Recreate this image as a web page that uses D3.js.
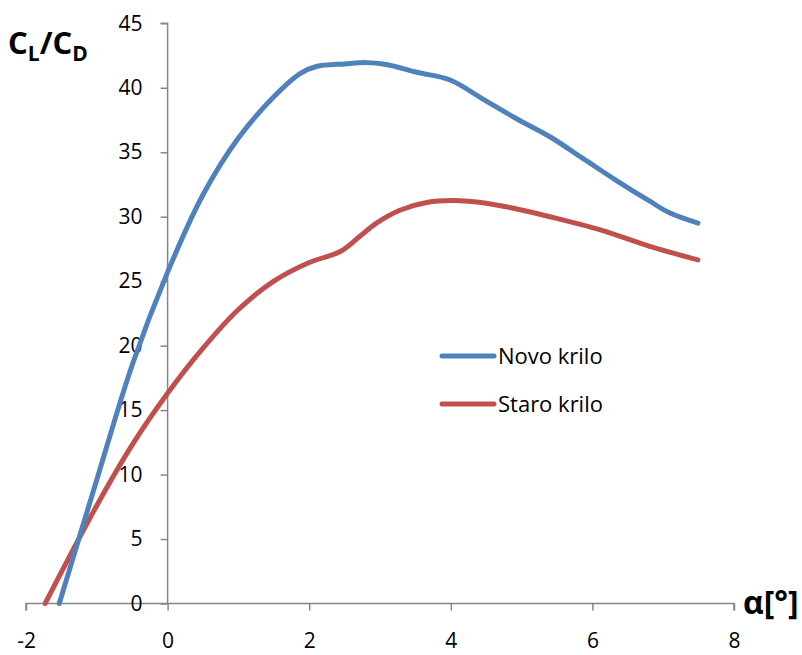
<!DOCTYPE html>
<html>
<head>
<meta charset="utf-8">
<script src="https://cdn.jsdelivr.net/npm/d3@7"></script>
<style>
  html, body { margin: 0; padding: 0; background: #fff; }
  svg { display: block; }
</style>
</head>
<body>
<svg id="chart" width="802" height="655"></svg>
<script>
// ---- data ----
const novoAlpha = [-1.53, -1, -0.5, 0, 0.5, 1, 1.5, 1.87, 2.1, 2.5, 2.81, 3.09, 3.52, 3.99, 4.46, 4.93, 5.40, 5.87, 6.34, 6.81, 7.09, 7.49];
const novoCLCD  = [0, 9.6, 18.5, 25.7, 31.7, 36.1, 39.3, 41.1, 41.65, 41.85, 41.95, 41.8, 41.2, 40.6, 39.1, 37.6, 36.2, 34.5, 32.8, 31.2, 30.3, 29.5];
const staroAlpha = [-1.73, -1, -0.5, 0, 0.5, 1, 1.5, 2, 2.44, 2.72, 2.95, 3.28, 3.66, 4.03, 4.5, 4.93, 5.4, 6.1, 6.81, 7.49];
const staroCLCD  = [0, 7.6, 12.3, 16.3, 19.8, 22.8, 25.0, 26.45, 27.3, 28.5, 29.5, 30.5, 31.1, 31.25, 31.05, 30.6, 30.0, 29.0, 27.7, 26.65];
const seriesNames = ["Novo krilo", "Staro krilo"];
const xTicks = [-2, 0, 2, 4, 6, 8];
const yTicks = [0, 5, 10, 15, 20, 25, 30, 35, 40, 45];

// ---- layout ----
const svg = d3.select("#chart");
const x = d3.scaleLinear().domain([-2, 8]).range([26, 734]);
const y = d3.scaleLinear().domain([0, 45]).range([603.5, 23.3]);
const axisColor = "#868686";
const fontFam = "'Open Sans', 'DejaVu Sans', sans-serif";

// x axis at y=0
const xAxis = svg.append("g")
  .attr("transform", `translate(0,${y(0)})`)
  .attr("font-family", fontFam)
  .call(d3.axisBottom(x).tickValues(xTicks).tickSize(7).tickPadding(23).tickFormat(d3.format("d")));
xAxis.select(".domain").attr("stroke", axisColor).attr("stroke-width", 1.5).attr("d", `M${x(-2)},7V0H${x(8)}V7`);
xAxis.selectAll(".tick line").attr("stroke", axisColor).attr("stroke-width", 1.5);
xAxis.selectAll(".tick text").attr("fill", "#000").attr("font-family", fontFam).attr("font-size", 21)
  .text(d => d < 0 ? "-" + Math.abs(d) : d);

// y axis at x=0
const yAxis = svg.append("g")
  .attr("transform", `translate(${x(0)},0)`)
  .attr("font-family", fontFam)
  .call(d3.axisLeft(y).tickValues(yTicks).tickSize(7).tickPadding(18).tickFormat(d3.format("d")));
yAxis.select(".domain").attr("stroke", axisColor).attr("stroke-width", 1.5).attr("d", `M-7,${y(45)}H0V${y(0)}`);
yAxis.selectAll(".tick line").attr("stroke", axisColor).attr("stroke-width", 1.5);
yAxis.selectAll(".tick text").attr("fill", "#000").attr("font-family", fontFam).attr("font-size", 21);

// ---- lines ----
const colors = ["#4F81BD", "#C0504D"];
const line = d3.line().x(d => x(d[0])).y(d => y(d[1])).curve(d3.curveCatmullRom.alpha(0.5));
const series = [
  d3.zip(novoAlpha, novoCLCD),
  d3.zip(staroAlpha, staroCLCD)
];
[1, 0].forEach(idx => {
  svg.append("path")
    .datum(series[idx])
    .attr("fill", "none")
    .attr("stroke", colors[idx])
    .attr("stroke-width", 5)
    .attr("stroke-linecap", "round")
    .attr("stroke-linejoin", "round")
    .attr("d", line);
});

// ---- legend ----
const legend = svg.append("g");
seriesNames.forEach((name, i) => {
  const ly = 356 + i * 48;
  legend.append("line")
    .attr("x1", 442).attr("x2", 494).attr("y1", ly).attr("y2", ly)
    .attr("stroke", colors[i]).attr("stroke-width", 5).attr("stroke-linecap", "round");
  legend.append("text")
    .attr("x", 498).attr("y", ly).attr("dy", "0.35em")
    .attr("font-family", fontFam).attr("font-size", 22).attr("fill", "#000")
    .text(name);
});

// ---- axis titles ----
const yTitle = svg.append("text")
  .attr("x", 8).attr("y", 54)
  .attr("font-family", fontFam).attr("font-size", 31).attr("font-weight", "bold").attr("fill", "#000");
yTitle.append("tspan").text("C");
yTitle.append("tspan").attr("font-size", 21).attr("dy", 7).text("L");
yTitle.append("tspan").attr("dy", -7).text("/C");
yTitle.append("tspan").attr("font-size", 21).attr("dy", 7).text("D");

svg.append("text")
  .attr("x", 743).attr("y", 614)
  .attr("font-family", fontFam).attr("font-size", 32).attr("font-weight", "bold").attr("fill", "#000")
  .text("α[°]");
</script>
</body>
</html>
